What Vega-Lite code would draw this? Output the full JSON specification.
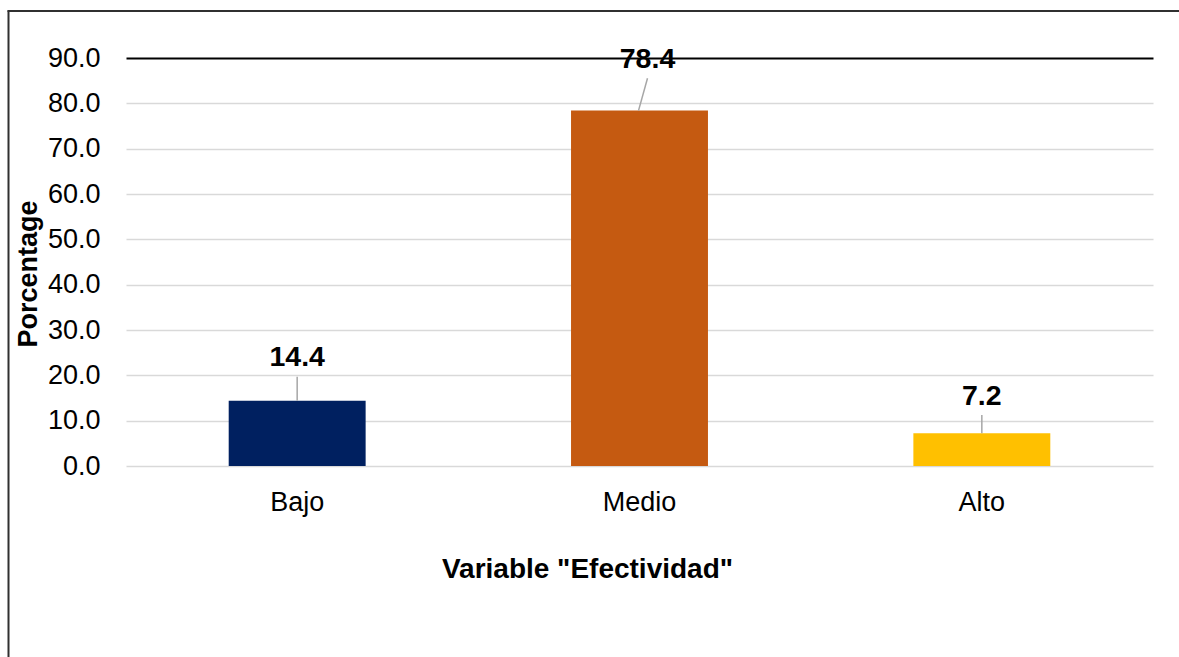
{
  "$schema": "https://vega.github.io/schema/vega-lite/v6.json",
  "autosize": {"type": "none"},
  "width": 1027,
  "height": 408,
  "padding": {"left": 126, "top": 58, "right": 26, "bottom": 191},
  "background": "white",
  "config": {"view": {"stroke": null}, "font": "Liberation Sans"},
  "data": {"values": [
    {"cat": "Bajo", "value": 14.4},
    {"cat": "Medio", "value": 78.4},
    {"cat": "Alto", "value": 7.2}
  ]},
  "layer": [
    {
      "encoding": {
        "x": {"field": "cat", "type": "nominal", "sort": ["Bajo", "Medio", "Alto"],
          "scale": {"paddingInner": 0.6, "paddingOuter": 0.3},
          "axis": {"title": "Variable \"Efectividad\"", "labelAngle": 0, "labelFontSize": 27, "labelColor": "#000000",
            "labelPadding": 23, "ticks": false, "domain": false, "grid": false,
            "titleFontSize": 28, "titleFontWeight": "bold", "titleColor": "#000000",
            "titleX": 461, "titleY": 111, "titleBaseline": "alphabetic", "titleAlign": "center"}},
        "y": {"field": "value", "type": "quantitative",
          "scale": {"domain": [0, 90], "nice": false},
          "axis": {"title": "Porcentage", "values": [0, 10, 20, 30, 40, 50, 60, 70, 80, 90], "format": ".1f",
            "labelFontSize": 27, "labelColor": "#000000", "labelPadding": 26, "ticks": false, "domain": false,
            "grid": true,
            "gridColor": {"condition": {"test": "datum.value === 90", "value": "#000000"}, "value": "#D9D9D9"},
            "gridWidth": {"condition": {"test": "datum.value === 90", "value": 2}, "value": 1.5},
            "titleFontSize": 27, "titleFontWeight": "bold", "titleColor": "#000000",
            "titleX": -90, "titleY": 215.5, "titleBaseline": "alphabetic", "titleAlign": "center", "titleAngle": 270}}
      },
      "layer": [
        {
          "mark": {"type": "bar"},
          "encoding": {
            "color": {"field": "cat", "type": "nominal", "legend": null,
              "scale": {"domain": ["Bajo", "Medio", "Alto"], "range": ["#002060", "#C55A11", "#FFC000"]}}
          }
        },
        {
          "transform": [{"filter": "datum.cat === 'Bajo'"}],
          "mark": {"type": "rule", "color": "#A6A6A6", "strokeWidth": 1.5, "y2Offset": -24},
          "encoding": {"y2": {"field": "value"}}
        },
        {
          "transform": [{"filter": "datum.cat === 'Alto'"}],
          "mark": {"type": "rule", "color": "#A6A6A6", "strokeWidth": 1.5, "y2Offset": -18.4},
          "encoding": {"y2": {"field": "value"}}
        },
        {
          "transform": [{"filter": "datum.cat === 'Medio'"}],
          "mark": {"type": "rule", "color": "#A6A6A6", "strokeWidth": 1.5, "xOffset": -1, "x2Offset": 8, "y2Offset": -32.3},
          "encoding": {
            "x2": {"field": "cat", "bandPosition": 0.5},
            "y2": {"field": "value"}
          }
        },
        {
          "transform": [{"filter": "datum.cat === 'Bajo'"}],
          "mark": {"type": "text", "fontSize": 28.5, "fontWeight": "bold", "color": "#000000", "baseline": "alphabetic", "dy": -34.7},
          "encoding": {"text": {"field": "value", "type": "quantitative", "format": ".1f"}}
        },
        {
          "transform": [{"filter": "datum.cat === 'Medio'"}],
          "mark": {"type": "text", "fontSize": 28.5, "fontWeight": "bold", "color": "#000000", "baseline": "alphabetic", "dy": -42.3, "dx": 8},
          "encoding": {"text": {"field": "value", "type": "quantitative", "format": ".1f"}}
        },
        {
          "transform": [{"filter": "datum.cat === 'Alto'"}],
          "mark": {"type": "text", "fontSize": 28.5, "fontWeight": "bold", "color": "#000000", "baseline": "alphabetic", "dy": -28.4},
          "encoding": {"text": {"field": "value", "type": "quantitative", "format": ".1f"}}
        }
      ]
    },
    {
      "mark": {"type": "point", "opacity": 0},
      "encoding": {
        "x": {"datum": 0, "type": "quantitative",
          "scale": {"domain": [0, 1], "range": [-119, 1053]},
          "axis": {"orient": "top", "offset": 47.5, "domain": true, "domainColor": "#303030", "domainWidth": 2,
            "labels": false, "ticks": false, "grid": false, "title": null}},
        "y": {"datum": 0, "type": "quantitative",
          "scale": {"domain": [0, 1], "range": [-48, 600]},
          "axis": {"orient": "left", "offset": 118, "domain": true, "domainColor": "#303030", "domainWidth": 2,
            "labels": false, "ticks": false, "grid": false, "title": null}}
      }
    }
  ],
  "resolve": {"scale": {"x": "independent", "y": "independent"}, "axis": {"x": "independent", "y": "independent"}}
}
